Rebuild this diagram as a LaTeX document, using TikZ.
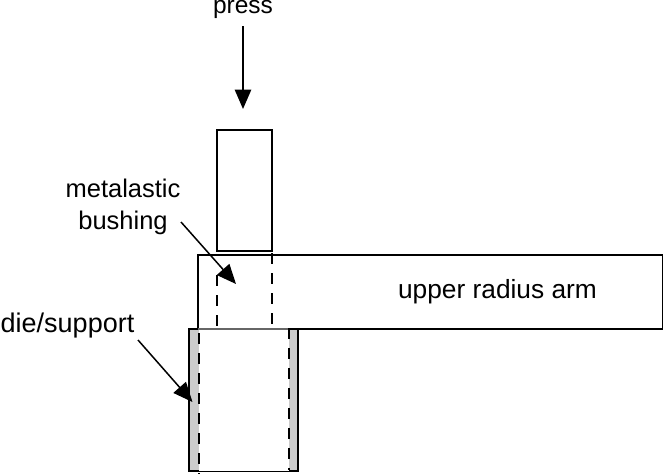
\documentclass[tikz,border=0pt]{standalone}
\usepackage{fontspec}
\setmainfont{Liberation Sans}
\usetikzlibrary{arrows.meta}
\tikzset{
  outline/.style={draw=black,line width=1.4pt,line join=miter},
  heavy/.style={draw=black,line width=1.7pt,line join=miter},
  band/.style={fill=black!20,draw=none},
  hidden/.style={draw=black,line width=1.4pt,dash pattern=on 10.5pt off 9.5pt},
  pointer/.style={draw=black,line width=1.5pt,-{Triangle[length=19.5pt,width=16.5pt]}},
  lbl/.style={inner sep=0pt,align=center,text=black,anchor=base}
}
\begin{document}
\begin{tikzpicture}[x=1pt,y=-1pt]
\useasboundingbox (0,0) rectangle (663,475);
% shapes
\draw[outline] (217,130) rectangle (272,251);
\fill[band] (189,329) rectangle (199,471);
\fill[band] (288.5,329) rectangle (298,471);
\draw[outline] (289,329) -- (663,329) -- (663,255) -- (198,255) -- (198,329);
\draw[heavy] (199,471) -- (189,471) -- (189,329) -- (199,329);
\draw[heavy] (289,329) -- (298,329) -- (298,471) -- (289,471);
\draw[black,line width=0.8pt] (199,471) -- (289,471);
\draw[black!60,line width=1.1pt] (198,329) -- (289,329);
% dashed bore lines
\coordinate (a1) at (217,275); \coordinate (a2) at (217,326);
\coordinate (b1) at (272,253); \coordinate (b2) at (272,326);
\coordinate (c1) at (199,333); \coordinate (c2) at (199,474);
\coordinate (d1) at (289,328); \coordinate (d2) at (289,470);
\draw[hidden] (a1) -- (a2);
\draw[hidden] (b1) -- (b2);
\draw[hidden] (c1) -- (c2);
\draw[hidden] (d1) -- (d2);
% labels
\node[lbl,font=\fontsize{24.5}{29}\selectfont] (press) at (243,13.7) {press};
\node[lbl,font=\fontsize{25.5}{30}\selectfont] (metal) at (123,197) {metalastic};
\node[lbl,font=\fontsize{25.5}{30}\selectfont] (bush) at (123,229) {bushing};
\node[lbl,font=\fontsize{27}{32}\selectfont] (die) at (67.5,332) {die/support};
\node[lbl,font=\fontsize{26.3}{32}\selectfont] (arm) at (497.5,298) {upper radius arm};
% arrows
\coordinate (s1) at (243,26);
\coordinate (t1) at (243,109);
\coordinate (s2) at (181,222);
\coordinate (t2) at (236,284);
\coordinate (s3) at (138,340);
\coordinate (t3) at (192.5,402);
\draw[pointer] (s1) -- (t1);
\draw[pointer] (s2) -- (t2);
\draw[pointer] (s3) -- (t3);
\end{tikzpicture}
\end{document}
